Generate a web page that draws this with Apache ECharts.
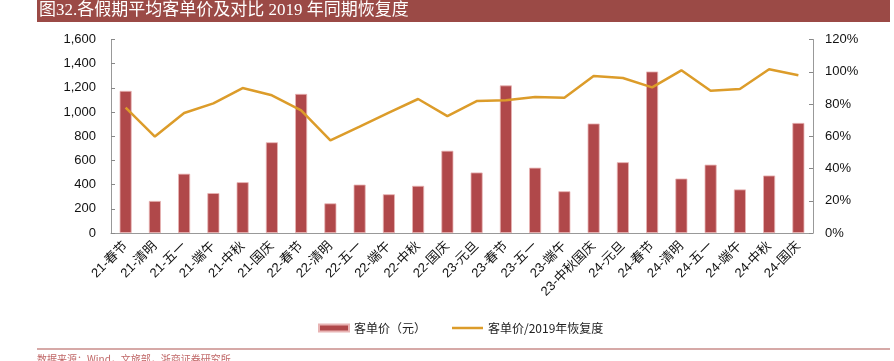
<!DOCTYPE html>
<html>
<head>
<meta charset="utf-8">
<script src="https://cdn.jsdelivr.net/npm/echarts@6/dist/echarts.min.js"></script>
<style>html,body{margin:0;padding:0;background:#fff;}#c{width:894px;height:361px;}</style>
</head>
<body>
<div id="c"></div>
<script>
const categories = ['21-春节','21-清明','21-五一','21-端午','21-中秋','21-国庆','22-春节','22-清明','22-五一','22-端午','22-中秋','22-国庆','23-元旦','23-春节','23-五一','23-端午','23-中秋国庆','24-元旦','24-春节','24-清明','24-五一','24-端午','24-中秋','24-国庆'];
const priceValues = [1175,265,490,330,420,750,1150,245,400,320,390,680,500,1220,540,345,905,585,1335,450,565,360,475,910];
const recoveryValues = [77.7,59.8,74.4,80.4,89.9,85.4,76.1,57.5,65.9,74.6,83.1,72.5,81.8,82.3,84.3,83.9,97.3,96.1,90.3,100.9,88.2,89.3,101.5,97.8];
const leftTicks = {min:0, max:1600, interval:200};
const rightTicks = {min:0, max:120, interval:20};
const titleText = '图32.各假期平均客单价及对比 2019 年同期恢复度';
const sourceText = '数据来源：Wind，文旅部，浙商证券研究所';
const seriesNames = ['客单价（元）','客单价/2019年恢复度'];

const chart = echarts.init(document.getElementById('c'), null, {renderer:'canvas'});
const axisFont = '"Liberation Sans", Arial, "Noto Sans CJK SC", sans-serif';
const legendText = {fontSize:12, color:'#222', fontFamily:'"Noto Sans CJK SC", sans-serif'};
chart.setOption({
  animation:false,
  backgroundColor:'#fff',
  grid:{left:111, right:81, top:39.5, bottom:128, containLabel:false},
  legend:[
    {left:313, top:317, itemWidth:30, itemHeight:7, textStyle:legendText,
     data:[{name:seriesNames[0], icon:'rect'}]},
    {left:447, top:317, itemWidth:31, itemHeight:2.5, textStyle:legendText,
     data:[{name:seriesNames[1], icon:'rect'}]}
  ],
  graphic:[
    {type:'rect', left:37, top:0, shape:{width:853, height:22}, style:{fill:'#9b4a46'}, z:0},
    {type:'text', left:39, top:2, style:{text:titleText, fill:'#fff', fontSize:17, fontFamily:'"Liberation Serif","Noto Sans CJK SC",serif'}},
    {type:'line', shape:{x1:37, y1:349, x2:890, y2:349}, style:{stroke:'#c98c8a', lineWidth:1.5}},
    {type:'text', left:37, top:354, style:{text:sourceText, fill:'#c06868', fontSize:10, fontFamily:'"Noto Sans CJK SC", sans-serif'}}
  ],
  xAxis:{
    type:'category', data:categories,
    axisLine:{lineStyle:{color:'#999', width:1}},
    axisTick:{inside:true, length:4, lineStyle:{color:'#888'}},
    axisLabel:{interval:0, rotate:45, margin:11, fontSize:13, color:'#111', fontFamily:axisFont}
  },
  yAxis:[
    {type:'value', min:leftTicks.min, max:leftTicks.max, interval:leftTicks.interval,
     splitLine:{show:false},
     axisLine:{show:true, lineStyle:{color:'#999'}},
     axisTick:{show:true, inside:true, length:4, lineStyle:{color:'#888'}},
     axisLabel:{margin:15, fontSize:13, color:'#111', fontFamily:axisFont,
       formatter:v=>v.toLocaleString('en-US')}},
    {type:'value', min:rightTicks.min, max:rightTicks.max, interval:rightTicks.interval,
     splitLine:{show:false},
     axisLine:{show:true, lineStyle:{color:'#999'}},
     axisTick:{show:true, inside:true, length:4, lineStyle:{color:'#888'}},
     axisLabel:{margin:12, fontSize:13, color:'#111', fontFamily:axisFont, formatter:v=>v+'%'}}
  ],
  series:[
    {name:seriesNames[0], type:'bar', data:priceValues, barWidth:12,
     itemStyle:{color:'#b0484a', borderColor:'#e8b4b4', borderWidth:0.8}},
    {name:seriesNames[1], type:'line', yAxisIndex:1, data:recoveryValues,
     symbol:'none', lineStyle:{color:'#dc9c2a', width:2.5}, itemStyle:{color:'#dc9c2a'}}
  ]
});
</script>
</body>
</html>
